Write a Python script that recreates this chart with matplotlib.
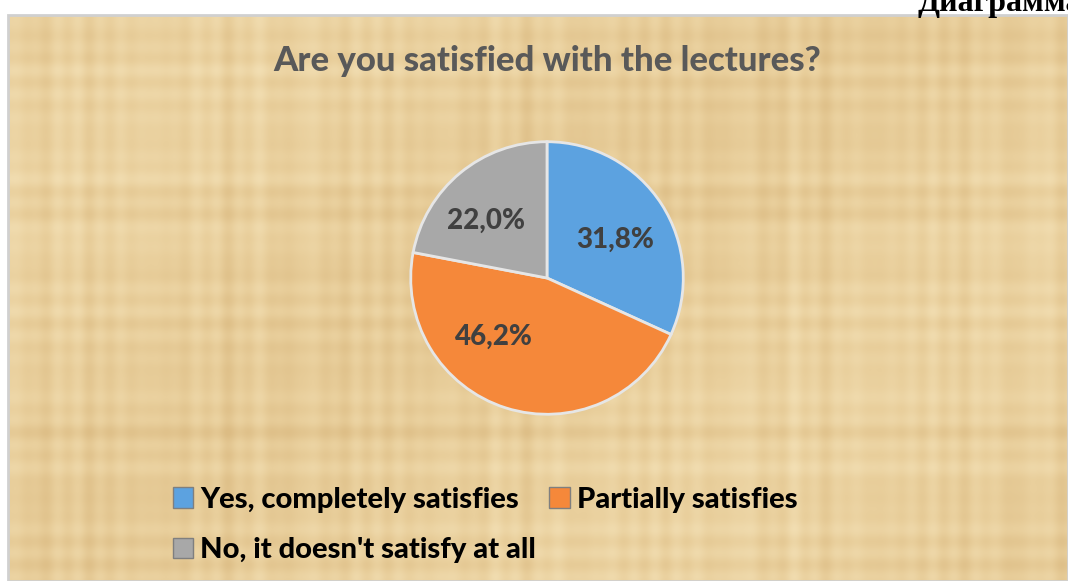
import matplotlib
matplotlib.use("Agg")
import matplotlib.pyplot as plt
from matplotlib.patches import Rectangle, Patch
from matplotlib.colors import LinearSegmentedColormap
import numpy as np

categories = ["Yes, completely satisfies", "Partially satisfies", "No, it doesn't satisfy at all"]
values = [31.8, 46.2, 22.0]
value_labels = ["31,8%", "46,2%", "22,0%"]
colors = ["#5CA2E0", "#F5883A", "#A8A8A8"]
title = "Are you satisfied with the lectures?"

W, H = 1068, 581
fig = plt.figure(figsize=(W / 100, H / 100), dpi=100)
fig.patch.set_facecolor("white")

# chart area background (parchment-like fibre texture, decorative)
bg = fig.add_axes([8 / W, 0, 1 - 8 / W, 1 - 15 / H])
bg.set_axis_off()
yy, xx = np.mgrid[0:280, 0:530].astype(float)
tex = (0.5
       + 0.10 * np.sin(xx / 1.7) * np.sin(xx / 23.0)
       + 0.08 * np.sin(xx / 4.3 + 1.0) * np.cos(xx / 41.0)
       + 0.10 * np.sin(yy / 1.9) * np.sin(yy / 19.0)
       + 0.07 * np.cos(yy / 5.1 + 0.5) * np.sin(yy / 37.0 + 2.0)
       + 0.08 * np.sin(xx / 90.0 + yy / 60.0))
cmap = LinearSegmentedColormap.from_list("parch", ["#DCBC84", "#E9CF9C", "#F3E0B5"])
bg.imshow(tex, cmap=cmap, aspect="auto", extent=[0, 1, 0, 1], interpolation="bilinear",
          vmin=0.1, vmax=0.9)
bg.add_patch(Rectangle((0, 0), 1, 1, transform=bg.transAxes, fill=False,
                       edgecolor="#D0D0D0", linewidth=2, clip_on=False))

fig.text(917 / W, 1 - 11 / H, "Диаграмма", fontsize=23, fontweight="bold",
         family="Liberation Serif", ha="left", va="baseline", color="black")

fig.text(547 / W, 1 - 61 / H, title, fontsize=25, fontweight="black", family="Lato",
         color="#595959", ha="center", va="center")

# pie
cx, cy, r = 547, 278, 139
ax = fig.add_axes([(cx - r) / W, 1 - (cy + r) / H, 2 * r / W, 2 * r / H])
ax.set_axis_off()
wedges, _ = ax.pie(values, colors=colors, startangle=90, counterclock=False, radius=1,
                   wedgeprops=dict(edgecolor="#E6E6E6", linewidth=2.0))
ax.set_xlim(-1.02, 1.02)
ax.set_ylim(-1.02, 1.02)
ax.set_aspect("equal")

label_pos = [(0.50, 0.28), (-0.39, -0.43), (-0.45, 0.42)]
for (lx, ly), lab in zip(label_pos, value_labels):
    ax.text(lx, ly, lab, fontsize=20, fontweight="black", family="Lato",
            color="#404040", ha="center", va="center")

handles = [Patch(facecolor=c, edgecolor="#7F7F7F", linewidth=1) for c in colors]
order = [0, 2, 1]  # row-major layout: row1 = Yes, Partially; row2 = No
leg = fig.legend([handles[i] for i in order], [categories[i] for i in order],
                 loc="upper left", bbox_to_anchor=(158 / W, 1 - 472 / H), ncol=2,
                 frameon=False,
                 prop=dict(family="Lato", weight="black", size=21),
                 handlelength=0.7, handleheight=0.7, handletextpad=0.25,
                 columnspacing=0.45, labelspacing=0.85, borderpad=0)

fig.savefig("out.png", dpi=100)
